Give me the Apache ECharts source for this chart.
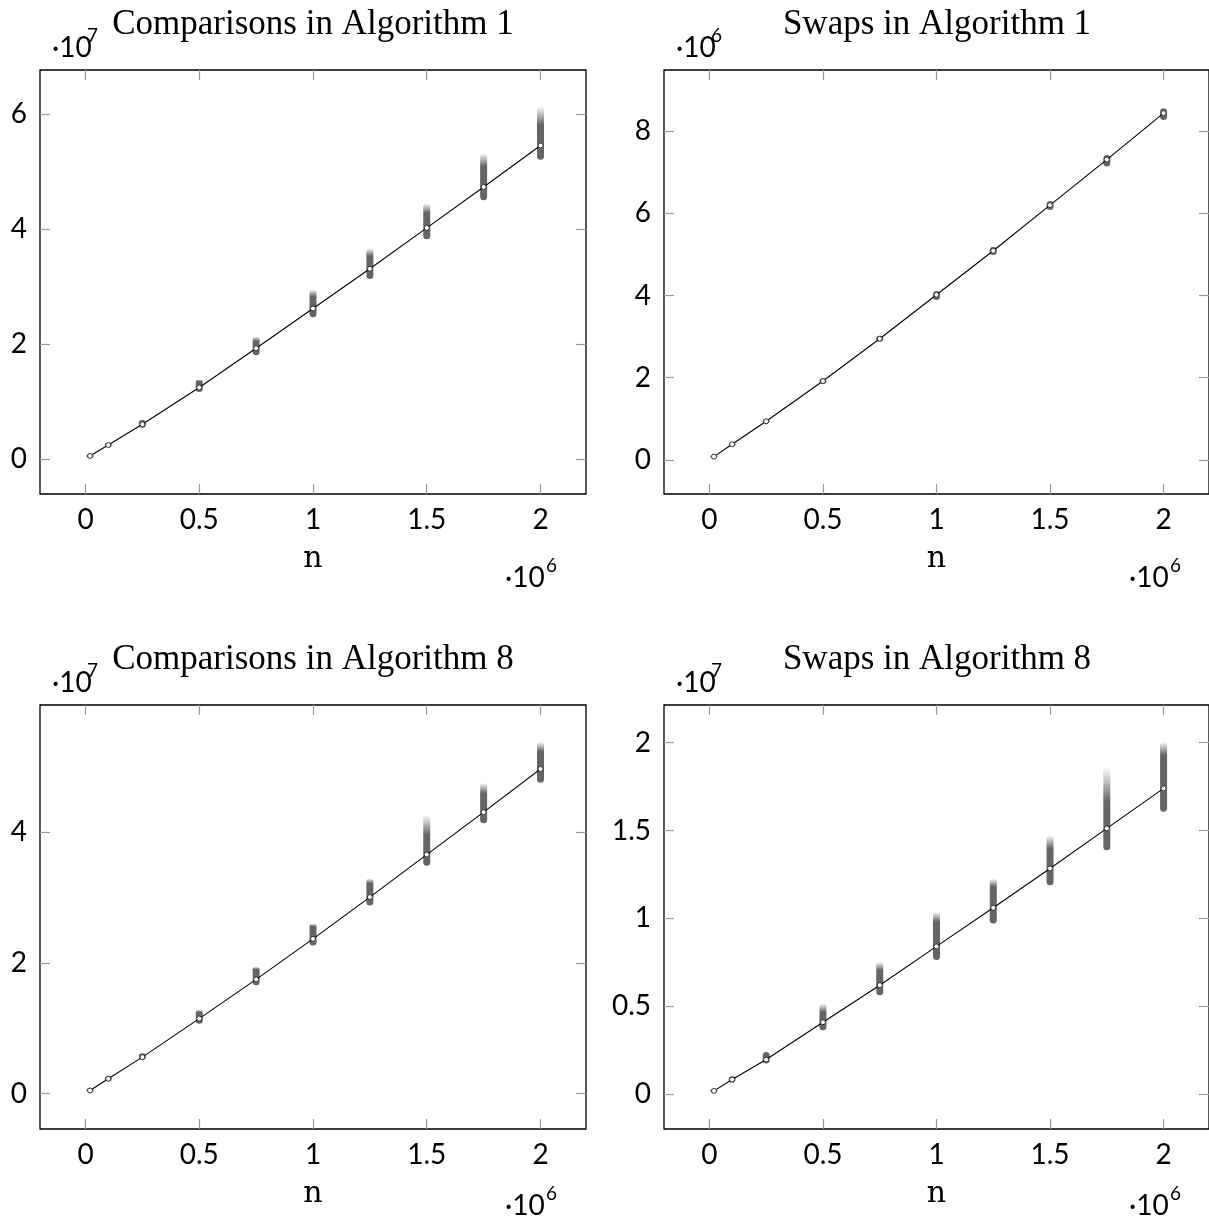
<!DOCTYPE html>
<html>
<head>
<meta charset="utf-8">
<script src="https://cdn.jsdelivr.net/npm/echarts@6/dist/echarts.min.js"></script>
<style>
html,body{margin:0;padding:0;background:#fff}
#main{width:1209px;height:1220px}
</style>
</head>
<body>
<div id="main"></div>
<script>
// === 數據（n 以 10^6 為單位） ===
const nVals=[0.02,0.1,0.25,0.5,0.75,1,1.25,1.5,1.75,2];

// Comparisons in Algorithm 1 (×10^7)
const cmp1Mean=[0.06,0.25,0.61,1.25,1.93,2.62,3.31,4.02,4.73,5.45];
const cmp1Low =[0.03,0.21,0.55,1.17,1.81,2.47,3.13,3.82,4.50,5.20];
const cmp1Dark=[0.09,0.29,0.69,1.36,2.05,2.83,3.53,4.28,5.09,5.81];
const cmp1Top =[0.09,0.29,0.69,1.39,2.14,2.95,3.67,4.45,5.32,6.13];

// Swaps in Algorithm 1 (×10^6)
const swp1Mean=[0.08,0.38,0.94,1.92,2.95,4.02,5.09,6.20,7.31,8.44];
const swp1Low =[0.05,0.34,0.89,1.85,2.88,3.89,4.99,6.08,7.14,8.27];
const swp1Dark=[0.11,0.42,0.99,1.99,3.02,4.11,5.19,6.30,7.42,8.56];
const swp1Top =[0.11,0.42,0.99,1.99,3.02,4.11,5.19,6.30,7.42,8.56];

// Comparisons in Algorithm 8 (×10^7)
const cmp8Mean=[0.05,0.23,0.56,1.15,1.75,2.37,3.01,3.66,4.31,4.97];
const cmp8Low =[0.03,0.19,0.52,1.07,1.66,2.27,2.88,3.49,4.14,4.76];
const cmp8Dark=[0.08,0.27,0.62,1.25,1.90,2.56,3.22,3.96,4.60,5.24];
const cmp8Top =[0.08,0.27,0.62,1.29,1.95,2.61,3.30,4.27,4.76,5.39];

// Swaps in Algorithm 8 (×10^7)
const swp8Mean=[0.017,0.082,0.196,0.408,0.619,0.840,1.060,1.284,1.512,1.740];
const swp8Low =[0.010,0.065,0.173,0.363,0.562,0.762,0.971,1.189,1.388,1.607];
const swp8Dark=[0.025,0.100,0.239,0.467,0.704,0.980,1.180,1.398,1.664,1.930];
const swp8Top =[0.025,0.100,0.239,0.515,0.752,1.037,1.227,1.474,1.863,2.006];

const xTicks=[0,0.5,1,1.5,2];

// === 面板配置 ===
const panels=[
  {left:40, top:70, title:'Comparisons in Algorithm 1',yMin:-0.6,yMax:6.76,yTicks:[0,2,4,6],yExp:'7',xExpGap:84,
   mean:cmp1Mean,low:cmp1Low,dark:cmp1Dark,hi:cmp1Top},
  {left:664,top:70, title:'Swaps in Algorithm 1',yMin:-0.83,yMax:9.49,yTicks:[0,2,4,6,8],yExp:'6',xExpGap:84,
   mean:swp1Mean,low:swp1Low,dark:swp1Dark,hi:swp1Top},
  {left:40, top:705,title:'Comparisons in Algorithm 8',yMin:-0.54,yMax:5.95,yTicks:[0,2,4],yExp:'7',xExpGap:77,
   mean:cmp8Mean,low:cmp8Low,dark:cmp8Dark,hi:cmp8Top},
  {left:664,top:705,title:'Swaps in Algorithm 8',yMin:-0.2,yMax:2.215,yTicks:[0,0.5,1,1.5,2],yExp:'7',xExpGap:77,
   mean:swp8Mean,low:swp8Low,dark:swp8Dark,hi:swp8Top}
];
const W=546,H=424;
const SANS='Lato',SERIF='Liberation Serif';
const tickStyle={show:true,inside:true,length:10,lineStyle:{color:'#9a9a9a',width:1.2}};

function smearItem(params,api){
  var x=api.value(0),lo=api.value(1),dk=api.value(2),hi=api.value(3);
  var pLo=api.coord([x,lo]),pDk=api.coord([x,dk]),pHi=api.coord([x,hi]);
  var w=7,h=Math.max(pLo[1]-pHi[1],2);
  var off=Math.min(Math.max((pDk[1]-pHi[1])/h,0),1);
  return {type:'rect',shape:{x:pLo[0]-w/2,y:pHi[1],width:w,height:h,r:w/2},
    style:{fill:new echarts.graphic.LinearGradient(0,0,0,1,[
      {offset:0,color:'rgba(85,85,85,0.0)'},
      {offset:off,color:'rgba(85,85,85,0.9)'},
      {offset:1,color:'rgba(85,85,85,0.9)'}])}};
}

const grid=[],xAxis=[],yAxis=[],series=[],graphic=[];
panels.forEach(function(p,i){
  grid.push({left:p.left,top:p.top,width:W,height:H,show:true,borderColor:'#000',borderWidth:1.3,
    backgroundColor:'transparent',containLabel:false});
  // bottom + top x axes
  xAxis.push({type:'value',gridIndex:i,position:'bottom',min:-0.2,max:2.2,
    axisLine:{show:false,onZero:false},splitLine:{show:false},
    axisTick:Object.assign({customValues:xTicks},tickStyle),
    axisLabel:{customValues:xTicks,margin:12,fontFamily:SANS,fontSize:28,color:'#000',formatter:function(v){return String(v);}},
    name:'n',nameLocation:'middle',nameGap:50,
    nameTextStyle:{fontFamily:'DejaVu Serif',fontSize:30,color:'#000'}});
  xAxis.push({type:'value',gridIndex:i,position:'top',min:-0.2,max:2.2,
    axisLine:{show:false,onZero:false},splitLine:{show:false},
    axisTick:Object.assign({customValues:xTicks},tickStyle),axisLabel:{show:false}});
  // left + right y axes
  yAxis.push({type:'value',gridIndex:i,position:'left',min:p.yMin,max:p.yMax,
    axisLine:{show:false,onZero:false},splitLine:{show:false},
    axisTick:Object.assign({customValues:p.yTicks},tickStyle),
    axisLabel:{customValues:p.yTicks,margin:13,fontFamily:SANS,fontSize:28,color:'#000',formatter:function(v){return String(v);}}});
  yAxis.push({type:'value',gridIndex:i,position:'right',min:p.yMin,max:p.yMax,
    axisLine:{show:false,onZero:false},splitLine:{show:false},
    axisTick:Object.assign({customValues:p.yTicks},tickStyle),axisLabel:{show:false}});

  var smear=nVals.map(function(n,k){return [n,p.low[k],p.dark[k],p.hi[k]];});
  series.push({type:'custom',xAxisIndex:2*i,yAxisIndex:2*i,renderItem:smearItem,
    encode:{x:0,y:[1,3]},data:smear,silent:true,z:2});
  series.push({type:'line',xAxisIndex:2*i,yAxisIndex:2*i,
    data:nVals.map(function(n,k){return [n,p.mean[k]];}),
    lineStyle:{color:'#000',width:1.1},symbol:'circle',symbolSize:5,showSymbol:true,
    itemStyle:{color:'#fff',borderColor:'#333',borderWidth:1},z:3,animation:false});

  // titles & exponent labels
  var cx=p.left+W/2;
  graphic.push({type:'text',x:cx,y:p.top-45,style:{text:p.title,fontFamily:SERIF,fontSize:35,fill:'#000',align:'center',verticalAlign:'middle'}});
  graphic.push({type:'text',x:p.left+12,y:p.top-22,style:{text:'·10',fontFamily:SANS,fontSize:28,fill:'#000',align:'left',verticalAlign:'middle'}});
  graphic.push({type:'text',x:p.left+47,y:p.top-34,style:{text:p.yExp,fontFamily:SANS,fontSize:19,fill:'#000',align:'left',verticalAlign:'middle'}});
  graphic.push({type:'text',x:p.left+465,y:p.top+H+p.xExpGap,style:{text:'·10',fontFamily:SANS,fontSize:28,fill:'#000',align:'left',verticalAlign:'middle'}});
  graphic.push({type:'text',x:p.left+506,y:p.top+H+p.xExpGap-12,style:{text:'6',fontFamily:SANS,fontSize:19,fill:'#000',align:'left',verticalAlign:'middle'}});
});

const chart=echarts.init(document.getElementById('main'),null,{renderer:'canvas'});
chart.setOption({animation:false,backgroundColor:'#fff',grid:grid,xAxis:xAxis,yAxis:yAxis,series:series,graphic:graphic});
</script>
</body>
</html>
